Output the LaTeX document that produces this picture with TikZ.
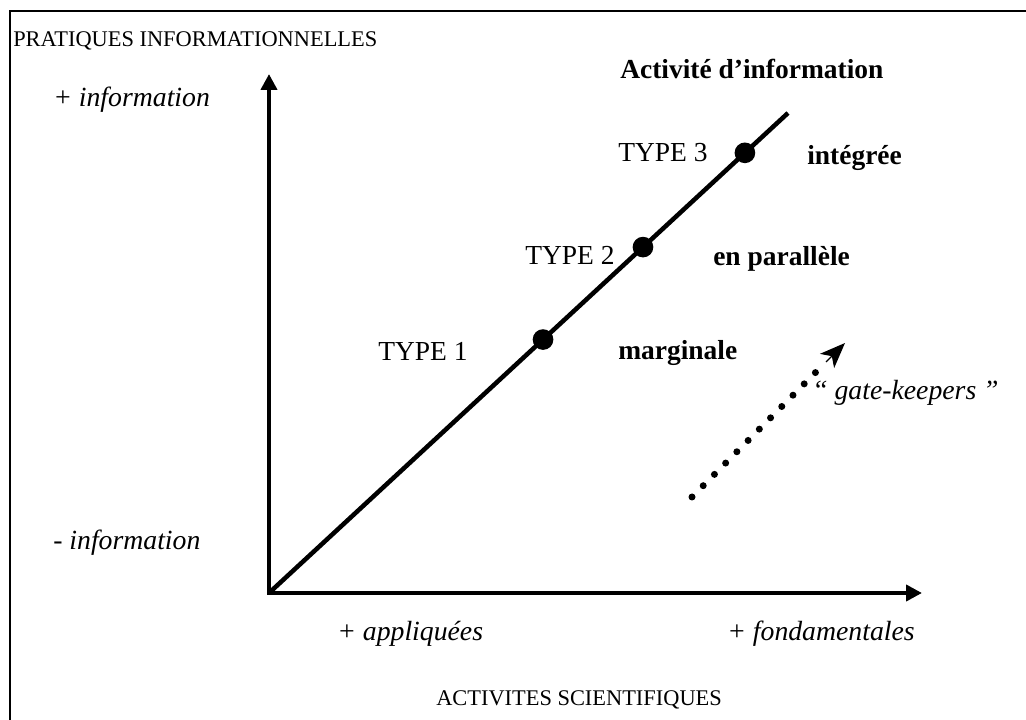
\documentclass[tikz,border=0pt]{standalone}
\usepackage{fontspec}
\setmainfont{Liberation Serif}
\usetikzlibrary{arrows.meta,calc}
\begin{document}
\begin{tikzpicture}[x=0.75pt,y=-0.75pt,
  lbl/.style={inner sep=0pt,anchor=base west,font=\fontsize{20.6}{24}\selectfont},
  lblit/.style={lbl,font=\fontsize{20.8}{24}\selectfont\itshape},
  lblbf/.style={lbl,font=\fontsize{20.6}{24}\selectfont\bfseries},
  caplbl/.style={inner sep=0pt,anchor=base west,font=\fontsize{16.8}{20}\selectfont},
  axisline/.style={line width=3.4pt,{Triangle[length=12pt,width=12pt]}-{Triangle[length=12pt,width=12pt]}},
  diag/.style={line width=3.4pt},
  typedot/.style={circle,fill=black,inner sep=0pt,minimum size=15.5pt},
  dotline/.style={line width=5.25pt,line cap=round,dash pattern=on 0pt off 11.95pt},
  gatehead/.style={line width=1pt,-{Stealth[length=19pt,width=15pt,inset=5pt]}},
  frameline/.style={line width=1.5pt}
  ]
\useasboundingbox (0,0) rectangle (1026,720);
\fill[white] (0,0) rectangle (1026,720);
% frame
\draw[frameline] (9.5,720) -- (9.5,11.5) -- (1026,11.5);

% axes
\coordinate (O) at (269,593);
\coordinate (Yt) at (269,74);
\coordinate (Xt) at (922,593);
\coordinate (E) at (788,113);
\draw[axisline] (Yt) -- (O) -- (Xt);
\draw[diag] (O) -- (E);

% type dots
\node[typedot] (d1) at ($(O)!0.528!(E)$) {};
\node[typedot] (d2) at ($(O)!0.7206!(E)$) {};
\node[typedot] (d3) at ($(O)!0.917!(E)$) {};

% labels
\node[caplbl] (pi) at (13,47) {PRATIQUES INFORMATIONNELLES};
\node[lblit] (pinf) at (53,107) {+ information};
\node[lblit] (minf) at (53,550) {- information};
\node[lblbf] (act) at (620,79) {Activité d’information};
\node[lbl] (ty3) at (618,162) {TYPE 3};
\node[lblbf] (integ) at (807,165) {intégrée};
\node[lbl] (ty2) at (525,265) {TYPE 2};
\node[lblbf] (paral) at (713,266) {en parallèle};
\node[lbl] (ty1) at (378,361) {TYPE 1};
\node[lblbf] (marg) at (618,360) {marginale};
\node[lblit] (gate) at (812,400) {“ gate-keepers ”};
\node[lblit] (appl) at (337,640) {+ appliquées};
\node[lblit] (fond) at (727,640) {+ fondamentales};
\node[caplbl] (as) at (436,705) {ACTIVITES SCIENTIFIQUES};

% gate-keepers dotted arrow
\coordinate (g0) at (692,497);
\coordinate (gl) at (816,372);
\coordinate (ga) at (826,362);
\coordinate (g1) at (845,343);
\draw[dotline] (g0) -- (gl);
\draw[gatehead] (ga) -- (g1);
\end{tikzpicture}
\end{document}
